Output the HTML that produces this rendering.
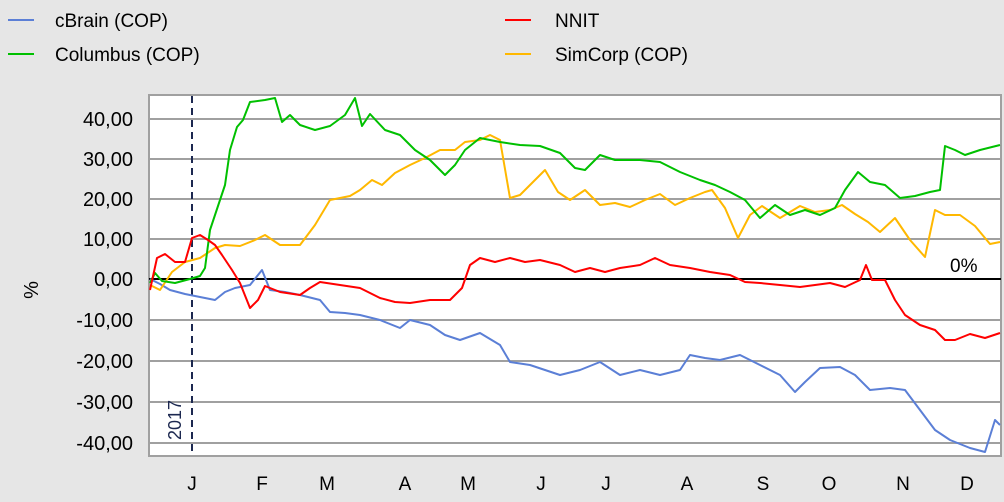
<!DOCTYPE html>
<html><head><style>
body{margin:0;background:#e6e6e6;}
svg{display:block;font-family:"Liberation Sans",sans-serif;}
</style></head><body>
<svg width="1004" height="502" viewBox="0 0 1004 502">
<rect width="1004" height="502" fill="#e6e6e6"/>
<g font-size="19" fill="#000">
<line x1="8" y1="20" x2="34" y2="20" stroke="#5b7fd6" stroke-width="2"/><text x="55" y="27">cBrain (COP)</text>
<line x1="8" y1="54" x2="34" y2="54" stroke="#00c000" stroke-width="2"/><text x="55" y="61">Columbus (COP)</text>
<line x1="505" y1="20" x2="531" y2="20" stroke="#f00" stroke-width="2"/><text x="555" y="27">NNIT</text>
<line x1="505" y1="54" x2="531" y2="54" stroke="#ffb800" stroke-width="2"/><text x="555" y="61">SimCorp (COP)</text>
</g>
<rect x="149" y="95" width="852" height="361" fill="#fff" stroke="#a0a0a0" stroke-width="2"/>
<g stroke="#a0a0a0" stroke-width="2">
<line x1="149" y1="119" x2="1001" y2="119"/><line x1="149" y1="159" x2="1001" y2="159"/>
<line x1="149" y1="199" x2="1001" y2="199"/><line x1="149" y1="239" x2="1001" y2="239"/>
<line x1="149" y1="320" x2="1001" y2="320"/><line x1="149" y1="361" x2="1001" y2="361"/>
<line x1="149" y1="402" x2="1001" y2="402"/><line x1="149" y1="443" x2="1001" y2="443"/>
</g>
<line x1="149" y1="279" x2="1001" y2="279" stroke="#000" stroke-width="2"/>
<line x1="192" y1="96" x2="192" y2="455" stroke="#1c2850" stroke-width="2" stroke-dasharray="7,5"/>
<text transform="translate(181,440) rotate(-90)" font-size="18" fill="#1c2850">2017</text>
<g font-size="20" text-anchor="end" fill="#000">
<text x="133" y="126">40,00</text><text x="133" y="166">30,00</text><text x="133" y="206">20,00</text>
<text x="133" y="246">10,00</text><text x="133" y="286">0,00</text><text x="133" y="327">-10,00</text>
<text x="133" y="368">-20,00</text><text x="133" y="409">-30,00</text><text x="133" y="450">-40,00</text>
</g>
<text transform="translate(38,290) rotate(-90)" font-size="20" text-anchor="middle">%</text>
<text x="950" y="272" font-size="19">0%</text>
<g font-size="19" text-anchor="middle">
<text x="192" y="490">J</text><text x="262" y="490">F</text><text x="327" y="490">M</text><text x="405" y="490">A</text>
<text x="468" y="490">M</text><text x="541" y="490">J</text><text x="606" y="490">J</text><text x="687" y="490">A</text>
<text x="763" y="490">S</text><text x="829" y="490">O</text><text x="903" y="490">N</text><text x="967" y="490">D</text>
</g>
<g fill="none" stroke-width="2" stroke-linejoin="round">
<polyline stroke="#5b7fd6" points="150,279 160,284 170,290 185,294 200,297 215,300 225,292 235,288 250,285 262,270 270,290 285,292 300,295 320,300 330,312 345,313 360,315 380,320 400,328 410,320 430,325 445,335 460,340 480,333 500,345 510,362 530,365 545,370 560,375 580,370 600,362 620,375 640,370 660,375 680,370 690,355 705,358 720,360 740,355 760,365 780,375 795,392 805,382 820,368 840,367 855,375 870,390 890,388 905,390 920,410 935,430 950,440 970,448 985,452 995,420 1000,425"/>
<polyline stroke="#ffb800" points="150,285 160,290 172,272 185,262 200,258 215,248 225,245 240,246 255,240 265,235 280,245 300,245 315,225 330,200 350,196 360,190 372,180 382,185 395,173 410,165 425,158 440,150 455,150 465,142 480,140 490,135 500,140 510,198 520,195 530,185 545,170 558,192 570,200 585,190 600,205 615,203 630,207 645,200 660,194 675,205 690,198 705,192 712,190 725,208 738,238 750,215 762,206 780,218 800,206 815,212 830,210 842,205 855,214 868,222 880,232 895,218 910,240 925,257 935,210 945,215 960,215 975,226 990,244 1000,242"/>
<polyline stroke="#00c000" points="150,283 155,273 162,281 175,283 190,279 200,276 205,268 210,230 215,215 225,185 230,150 237,127 243,120 250,102 265,100 275,98 282,122 290,115 300,125 315,130 330,126 345,115 355,98 362,126 370,114 385,130 400,135 415,150 430,160 445,175 455,165 465,150 480,138 500,142 520,145 540,146 560,153 575,168 585,170 600,155 615,160 640,160 660,162 680,172 700,180 715,185 730,192 745,200 760,218 775,205 790,215 805,210 820,215 835,208 845,190 858,172 870,182 885,185 900,198 915,196 930,192 940,190 945,146 955,150 965,155 980,150 1000,145"/>
<polyline stroke="#f00" points="150,290 157,258 165,254 175,262 185,262 192,238 200,235 208,240 215,245 222,255 232,270 240,283 250,308 258,300 265,286 280,292 300,295 310,288 320,282 340,285 360,288 380,298 395,302 410,303 430,300 450,300 462,288 470,265 480,258 495,262 510,258 525,262 540,260 560,265 575,272 590,268 605,272 620,268 640,265 655,258 670,265 690,268 710,272 730,275 745,282 760,283 780,285 800,287 815,285 830,283 845,287 860,280 866,265 872,280 885,280 895,300 905,315 920,325 935,330 945,340 955,340 970,334 985,338 1000,333"/>
</g>
</svg>
</body></html>
